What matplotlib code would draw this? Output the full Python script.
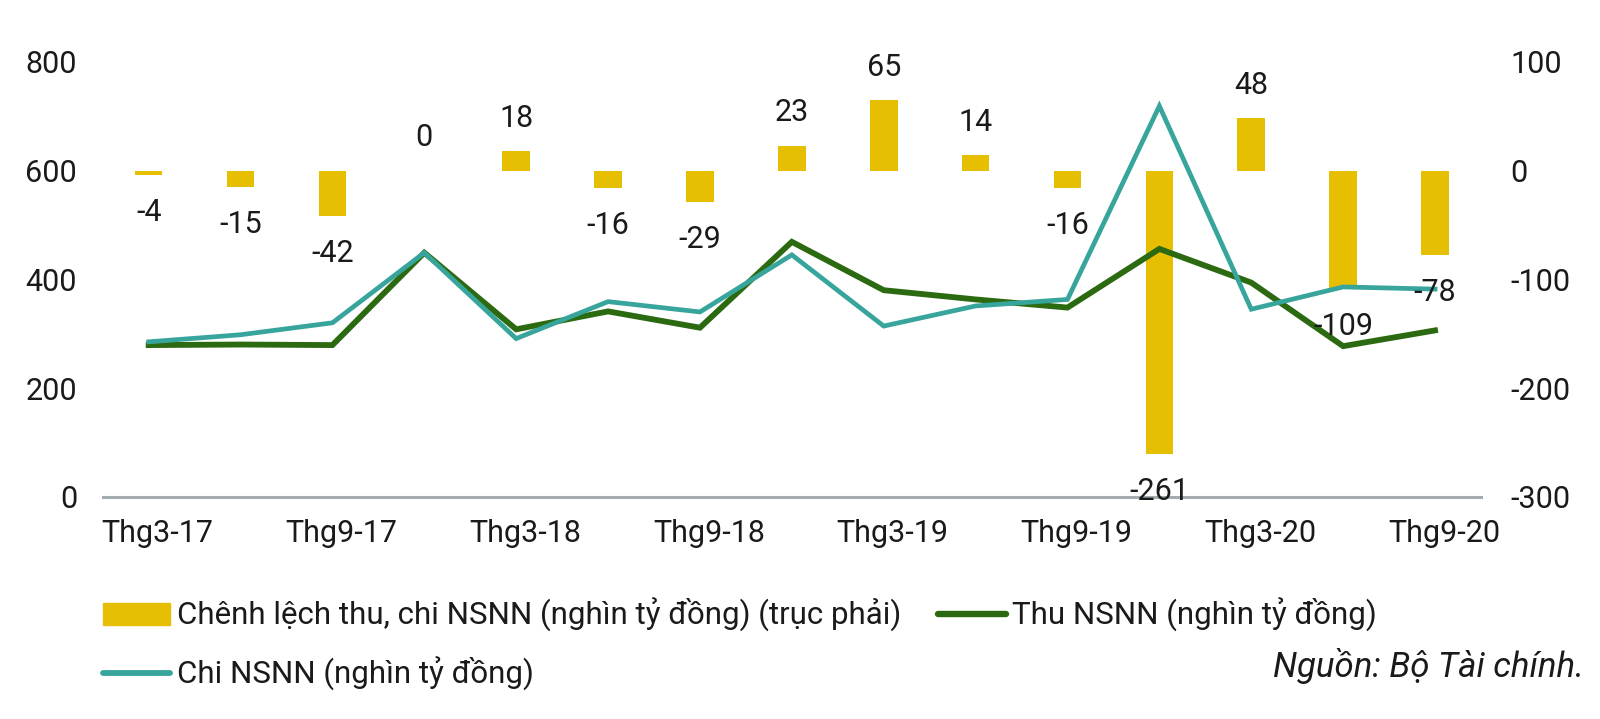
import matplotlib
matplotlib.use("Agg")
import matplotlib.pyplot as plt
from matplotlib.patches import Patch
from matplotlib.lines import Line2D
from matplotlib.transforms import ScaledTranslation

plt.rcParams['font.family'] = ['Roboto', 'DejaVu Sans']

quarters = ['Thg3-17', 'Thg6-17', 'Thg9-17', 'Thg12-17', 'Thg3-18', 'Thg6-18',
            'Thg9-18', 'Thg12-18', 'Thg3-19', 'Thg6-19', 'Thg9-19', 'Thg12-19',
            'Thg3-20', 'Thg6-20', 'Thg9-20']
balance = [-4, -15, -42, 0, 18, -16, -29, 23, 65, 14, -16, -261, 48, -109, -78]
thu = [279, 280, 279, 449, 308, 341, 311, 469, 380, 363, 348, 456, 394, 277, 306]
chi = [285, 298, 320, 449, 291, 359, 340, 445, 314, 351, 363, 719, 345, 386, 382]
left_ticks = [0, 200, 400, 600, 800]
right_ticks = [-300, -200, -100, 0, 100]

YELLOW = '#E6BE02'
GREEN = '#2C6A12'
TEAL = '#37A59C'
GRAY = '#A3ADAF'
TXT = '#1a1a1a'
FS = 22

fig = plt.figure(figsize=(16, 7.19), dpi=100)
ax = fig.add_axes([0.0642, 0.3092, 0.8614, 0.6046])
ax2 = ax.twinx()

x = list(range(len(quarters)))
ax.bar(x, balance, width=0.30, color=YELLOW, zorder=2)
ax.set_ylim(-300, 100)
ax.set_xlim(-0.5, len(quarters) - 0.5)

ax2.plot(x, chi, color=TEAL, lw=3.4, solid_joinstyle='miter', zorder=3)
ax2.plot(x, thu, color=GREEN, lw=4.2, solid_joinstyle='miter', zorder=2)
ax2.set_ylim(0, 800)

# axis placement: bar scale on right, line scale on left
ax.yaxis.tick_right()
ax2.yaxis.tick_left()
ax.set_yticks(right_ticks)
ax.set_yticklabels([str(v) for v in right_ticks])
ax2.set_yticks(left_ticks)
ax2.set_yticklabels([str(v) for v in left_ticks])
ax.set_xticks(x[::2])
ax.set_xticklabels(quarters[::2])

ax.tick_params(axis='y', length=0, pad=21, labelsize=FS, labelcolor=TXT)
ax2.tick_params(axis='y', length=0, pad=18.5, labelsize=FS, labelcolor=TXT)
ax.tick_params(axis='x', length=0, pad=16, labelsize=FS, labelcolor=TXT)
shift = ScaledTranslation(6.5 / 72, 0, fig.dpi_scale_trans)
for lbl in ax.get_xticklabels():
    lbl.set_transform(lbl.get_transform() + shift)

for a in (ax, ax2):
    for s in a.spines.values():
        s.set_visible(False)
ax.spines['bottom'].set_visible(True)
ax.spines['bottom'].set_color(GRAY)
ax.spines['bottom'].set_linewidth(2.2)

for i, v in enumerate(balance):
    off = 17.5 if v >= 0 else -33
    ax2.annotate(str(v), xy=(i, v), xycoords=ax.transData,
                 xytext=(0, off), textcoords='offset points',
                 ha='center', va='baseline', fontsize=FS, color=TXT, zorder=5)

handles = [Patch(color=YELLOW),
           Line2D([], [], color=TEAL, lw=4.2, solid_capstyle='round'),
           Line2D([], [], color=GREEN, lw=4.6, solid_capstyle='round')]
labels = ['Chênh lệch thu, chi NSNN (nghìn tỷ đồng) (trục phải)',
          'Chi NSNN (nghìn tỷ đồng)',
          'Thu NSNN (nghìn tỷ đồng)']
leg = fig.legend(handles, labels, ncol=2, loc='upper left',
                 bbox_to_anchor=(0.0645, 1 - 598 / 719), bbox_transform=fig.transFigure,
                 frameon=False, fontsize=22.5, handlelength=2.15, handletextpad=0.2,
                 columnspacing=1.2, labelspacing=0.8, borderaxespad=0,
                 borderpad=0)
for t in leg.get_texts():
    t.set_color(TXT)

fig.text(1584 / 1600, 1 - 677 / 719, 'Nguồn: Bộ Tài chính.', ha='right', va='baseline',
         fontsize=25, style='italic', color=TXT)

fig.savefig('out.png', dpi=100)
